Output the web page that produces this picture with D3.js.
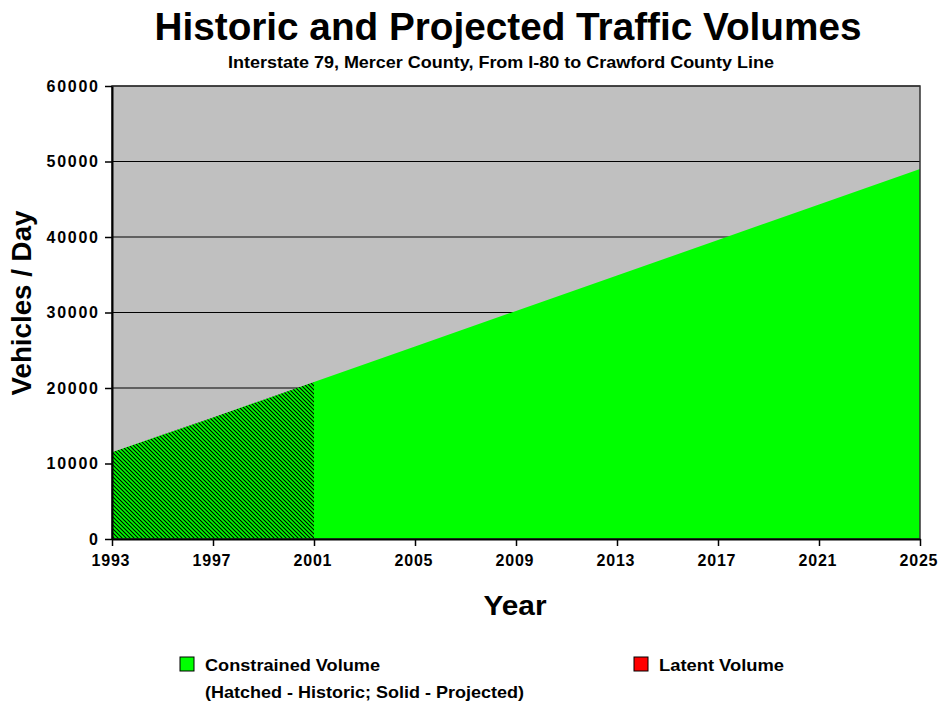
<!DOCTYPE html>
<html><head><meta charset="utf-8">
<script src="https://cdn.jsdelivr.net/npm/d3@7"></script>
<style>
body{margin:0;background:#fff;}
text{font-family:"Liberation Sans",Arial,sans-serif;font-weight:bold;fill:#000;}
</style></head><body>
<svg id="chart" width="939" height="704"></svg>
<script>
const historicYears = [1993, 1995, 1997, 1999, 2001];
const historicValues = [11500, 13800, 16100, 18450, 20800];
const projectedYears = [2001, 2005, 2009, 2013, 2017, 2021, 2025];
const projectedValues = [20800, 25500, 30200, 34900, 39600, 44300, 49000];
const xTicks = [1993, 1997, 2001, 2005, 2009, 2013, 2017, 2021, 2025];
const yTicks = [0, 10000, 20000, 30000, 40000, 50000, 60000];
const legendLabels = ["Constrained Volume", "Latent Volume"];
const legendNote = "(Hatched - Historic; Solid - Projected)";

const svg = d3.select("#chart");
const L = 112, R = 920, T = 86, B = 539;
const x = d3.scaleLinear().domain([1993, 2025]).range([L, R]);
const y = d3.scaleLinear().domain([0, 60000]).range([B, T]);

const defs = svg.append("defs");
const pat = defs.append("pattern").attr("id","hatch").attr("patternUnits","userSpaceOnUse")
  .attr("width",4).attr("height",4);
pat.append("rect").attr("width",4).attr("height",4).attr("fill","#00ff00");
pat.append("path").attr("d","M-1,-1 L5,5 M-1,3 L1,5 M3,-1 L5,1").attr("stroke","#000").attr("stroke-width",1.1);

svg.append("rect").attr("x",L).attr("y",T).attr("width",R-L).attr("height",B-T).attr("fill","#c0c0c0");

svg.append("g").selectAll("line").data(yTicks.filter(d=>d>0)).join("line")
  .attr("x1",L).attr("x2",R).attr("y1",d=>y(d)).attr("y2",d=>y(d))
  .attr("stroke","#000").attr("stroke-width",1);

const area = d3.area().x(d=>x(d[0])).y0(y(0)).y1(d=>y(d[1]));
const proj = projectedYears.map((yr,i)=>[yr, projectedValues[i]]);
const hist = historicYears.map((yr,i)=>[yr, historicValues[i]]);
svg.append("path").datum(proj).attr("d",area).attr("fill","#00ff00");
svg.append("path").datum(hist).attr("d",area).attr("fill","url(#hatch)");

svg.append("rect").attr("x",L).attr("y",T).attr("width",R-L).attr("height",B-T)
  .attr("fill","none").attr("stroke","#333").attr("stroke-width",1.5);

const tickFont = sel => sel.style("font-size","16px").style("font-weight","bold")
  .style("font-family","'Liberation Sans',Arial,sans-serif")
  .attr("lengthAdjust","spacing");

const xAxis = d3.axisBottom(x).tickValues(xTicks).tickFormat(d3.format("d")).tickSize(7).tickSizeOuter(0);
const gx = svg.append("g").attr("transform",`translate(0,${B})`).call(xAxis);
gx.select(".domain").attr("stroke","#000").attr("stroke-width",2);
gx.selectAll(".tick line").attr("stroke","#000").attr("stroke-width",1.5);
gx.selectAll("text").attr("y",16).attr("dy","0.71em").attr("dx",-2).call(tickFont).attr("textLength",38);

const yAxis = d3.axisLeft(y).tickValues(yTicks).tickFormat(d3.format("d")).tickSize(7).tickSizeOuter(0);
const gy = svg.append("g").attr("transform",`translate(${L},0)`).call(yAxis);
gy.select(".domain").attr("stroke","#000").attr("stroke-width",2);
gy.selectAll(".tick line").attr("stroke","#000").attr("stroke-width",1.5);
gy.selectAll("text").attr("x",-14).call(tickFont).attr("textLength",d=>d===0?9:String(d).length*10.3);

svg.append("text").attr("x",508).attr("y",40).attr("text-anchor","middle")
  .attr("textLength",707).attr("lengthAdjust","spacingAndGlyphs")
  .style("font-size","38px").text("Historic and Projected Traffic Volumes");
svg.append("text").attr("x",501).attr("y",68).attr("text-anchor","middle")
  .attr("textLength",546).attr("lengthAdjust","spacingAndGlyphs")
  .style("font-size","17px").text("Interstate 79, Mercer County, From I-80 to Crawford County Line");
svg.append("text").attr("x",515).attr("y",615).attr("text-anchor","middle")
  .attr("textLength",63).attr("lengthAdjust","spacingAndGlyphs")
  .style("font-size","28px").text("Year");
svg.append("text").attr("transform","translate(31,303) rotate(-90)").attr("text-anchor","middle")
  .attr("textLength",185).attr("lengthAdjust","spacingAndGlyphs")
  .style("font-size","27px").text("Vehicles / Day");

const leg = svg.append("g");
const legendColors = ["#00ff00","#ff0000"];
const legendX = [180, 634];
const legendW = [175, 125];
legendLabels.forEach((lab,i)=>{
  leg.append("rect").attr("x",legendX[i]).attr("y",657).attr("width",14).attr("height",14)
    .attr("fill",legendColors[i]).attr("stroke","#000").attr("stroke-width",1);
  leg.append("text").attr("x",legendX[i]+25).attr("y",671)
    .attr("textLength",legendW[i]).attr("lengthAdjust","spacingAndGlyphs")
    .style("font-size","17px").text(lab);
});
leg.append("text").attr("x",205).attr("y",698)
  .attr("textLength",319).attr("lengthAdjust","spacingAndGlyphs")
  .style("font-size","17px").text(legendNote);
</script>
</body></html>
